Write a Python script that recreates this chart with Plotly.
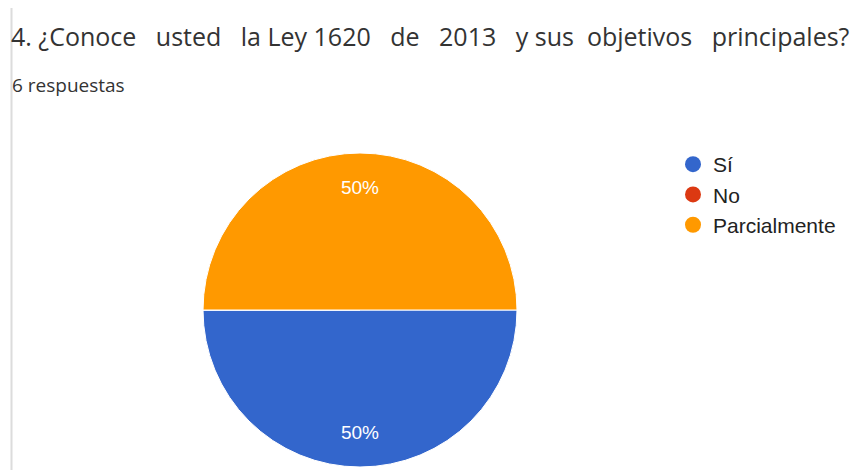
import plotly.graph_objects as go

labels = ["Sí", "No", "Parcialmente"]
values = [3, 0, 3]
colors = ["#3366cc", "#dc3912", "#ff9900"]
title_words = ["4.", "¿Conoce", "usted", "la", "Ley", "1620", "de", "2013", "y", "sus", "objetivos", "principales?"]
title_gaps = [1, 3, 3, 1, 1, 3, 3, 3, 1, 2, 3]
subtitle_text = "6 respuestas"

NB = "\u00a0"
title_text = title_words[0]
for g, w in zip(title_gaps, title_words[1:]):
    title_text += NB * g + w

W, H = 856, 472
dom = dict(x=[203 / W, 517 / W], y=[1 - 467 / H, 1 - 153 / H])
fig = go.Figure()

# coloured pie (no text)
fig.add_trace(go.Pie(
    labels=labels, values=values, sort=False, direction="clockwise", rotation=90,
    marker=dict(colors=colors, line=dict(color="white", width=1)),
    textinfo="none", showlegend=False, hoverinfo="label+percent",
    domain=dom,
))
# transparent ring used only to place the percentage labels further out
fig.add_trace(go.Pie(
    labels=labels, values=values, sort=False, direction="clockwise", rotation=90,
    hole=0.56,
    marker=dict(colors=["rgba(0,0,0,0)"] * len(labels), line=dict(width=0)),
    texttemplate="%{percent:.0%}", textposition="inside",
    insidetextorientation="horizontal",
    textfont=dict(color="white", size=19, family="Liberation Sans"),
    showlegend=False, hoverinfo="skip",
    domain=dom,
))

for lab, col in zip(labels, colors):
    fig.add_trace(go.Scatter(
        x=[None], y=[None], mode="markers", name=lab,
        marker=dict(symbol="circle", size=17, color=col),
        legendgroup=lab,
    ))

fig.update_layout(
    width=W, height=H,
    margin=dict(l=0, r=0, t=0, b=0),
    paper_bgcolor="white", plot_bgcolor="white",
    xaxis=dict(visible=False), yaxis=dict(visible=False),
    title=dict(text=title_text, x=11 / W, xanchor="left", xref="paper",
               y=1 - 37 / H, yanchor="middle", yref="paper",
               font=dict(family="Open Sans", size=25, color="#333333")),
    annotations=[dict(text=subtitle_text, x=10 / W, y=1 - 85 / H, xref="paper", yref="paper",
                      xanchor="left", yanchor="middle", showarrow=False,
                      font=dict(family="Open Sans", size=19, color="#333333"))],
    legend=dict(x=673 / W, y=1 - 144 / H, xanchor="left", yanchor="top",
                font=dict(family="Liberation Sans", size=21, color="#222222"),
                tracegroupgap=0, itemwidth=30, bgcolor="rgba(0,0,0,0)"),
    shapes=[dict(type="line", xref="paper", yref="paper", x0=11.5 / W, x1=11.5 / W,
                 y0=1 - 8 / H, y1=1 - 470 / H, line=dict(color="#dcdcdc", width=2))],
)

fig.write_html("out.html")
